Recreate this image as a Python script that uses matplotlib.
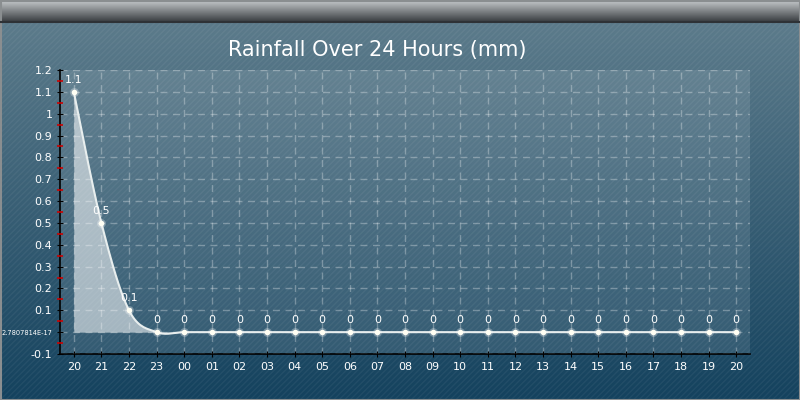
import numpy as np
import matplotlib
matplotlib.use('Agg')
import matplotlib.pyplot as plt
from matplotlib.patches import Rectangle

plt.rcParams['font.family'] = ['DejaVu Sans Condensed', 'Liberation Sans Narrow', 'DejaVu Sans']

# data
hours = ['20', '21', '22', '23', '00', '01', '02', '03', '04', '05', '06', '07',
         '08', '09', '10', '11', '12', '13', '14', '15', '16', '17', '18', '19', '20']
rain = [1.1, 0.5, 0.1, 0, 0, 0, 0, 0, 0, 0, 0, 0, 0, 0, 0, 0, 0, 0, 0, 0, 0, 0, 0, 0, 0]
y_ticks = [-0.1, 0, 0.1, 0.2, 0.3, 0.4, 0.5, 0.6, 0.7, 0.8, 0.9, 1, 1.1, 1.2]
y_labels = ['-0.1', '2.7807814E-17', '0.1', '0.2', '0.3', '0.4', '0.5', '0.6',
            '0.7', '0.8', '0.9', '1', '1.1', '1.2']
title = 'Rainfall Over 24 Hours (mm)'


def smooth(xs, ys, n=20):
    # catmull-rom style curve through the points
    xs = np.asarray(xs, float)
    ys = np.asarray(ys, float)
    px = np.concatenate([[xs[0]], xs, [xs[-1]]])
    py = np.concatenate([[ys[0]], ys, [ys[-1]]])
    outx, outy = [], []
    for i in range(1, len(px) - 2):
        t = np.linspace(0, 1, n)
        for p, out in ((px, outx), (py, outy)):
            p0, p1, p2, p3 = p[i - 1], p[i], p[i + 1], p[i + 2]
            out.extend(0.5 * ((2 * p1) + (-p0 + p2) * t +
                              (2 * p0 - 5 * p1 + 4 * p2 - p3) * t ** 2 +
                              (-p0 + 3 * p1 - 3 * p2 + p3) * t ** 3))
    return np.array(outx), np.array(outy)


fig = plt.figure(figsize=(8, 4), dpi=100)

# background gradient + stripes
bg = fig.add_axes([0, 0, 1, 1], zorder=-10)
bg.axis('off')
top = np.array([0x5c, 0x7b, 0x8b]) / 255
bot = np.array([0x14, 0x42, 0x5e]) / 255
g = np.linspace(0, 1, 200)[:, None]
grad = top * (1 - g) + bot * g
bg.imshow(grad[:, None, :].repeat(2, axis=1), extent=[0, 800, 400, 22], aspect='auto')
bg.add_patch(Rectangle((0, 22), 800, 378, facecolor='none', hatch='//////',
                       edgecolor=(1, 1, 1, 0.05), linewidth=0))
bar = np.linspace(0, 1, 22)[:, None]
bar_top = np.array([0xc4, 0xc8, 0xca]) / 255
bar_bot = np.array([0x3a, 0x3e, 0x42]) / 255
bar_grad = bar_top * (1 - bar) + bar_bot * bar
bg.imshow(bar_grad[:, None, :].repeat(2, axis=1), extent=[0, 800, 22, 0], aspect='auto')
bg.plot([0, 800], [21.5, 21.5], color='#2e3236', lw=1.5)
bg.add_patch(Rectangle((0.5, 0.5), 799, 399, facecolor='none', edgecolor='#8a8e90', lw=1.5))
bg.set_xlim(0, 800)
bg.set_ylim(400, 0)
bg.text(377, 50, title, color='white', fontsize=15, ha='center', va='center')

# main plot
ax = fig.add_axes([60 / 800, 46 / 400, 690 / 800, 284 / 400])
ax.set_facecolor((1, 1, 1, 0.1))
x = np.arange(len(hours))
sx, sy = smooth(x, rain)
ax.fill_between(sx, 0, sy, color='white', alpha=0.55, lw=0, zorder=1)
ax.plot(sx, sy, color='#e8eeee', lw=1.5, zorder=3)
ax.scatter(x, rain, s=40, color='white', alpha=0.3, lw=0, zorder=4)
ax.scatter(x, rain, s=16, color='#fffff4', lw=0, zorder=5)
for xi, v in zip(x, rain):
    ax.annotate('%g' % v, (xi, v), xytext=(0, 5), textcoords='offset points',
                ha='center', va='bottom', color='white', fontsize=8)

ax.set_xlim(-0.5, len(hours) - 0.5)
ax.set_ylim(-0.1, 1.2)
ax.set_xticks(x)
ax.set_xticklabels(hours)
ax.set_yticks(y_ticks)
ax.set_yticklabels(y_labels)
ax.set_yticks(np.arange(-0.05, 1.2, 0.1), minor=True)
ax.set_axisbelow(False)
ax.grid(True, color='white', alpha=0.3, ls=(0, (5, 4)), lw=1, zorder=2)
for s in ['top', 'right']:
    ax.spines[s].set_visible(False)
for s in ['left', 'bottom']:
    ax.spines[s].set_color('black')
    ax.spines[s].set_linewidth(1.2)
ax.tick_params(axis='both', which='major', colors='black', labelcolor='white',
               labelsize=8, length=4, direction='inout')
ax.tick_params(axis='y', which='minor', colors='#cc0000', length=4, width=1.2,
               direction='inout')
ax.get_yticklabels()[1].set_fontsize(4.8)

fig.savefig('out.png', dpi=100)
